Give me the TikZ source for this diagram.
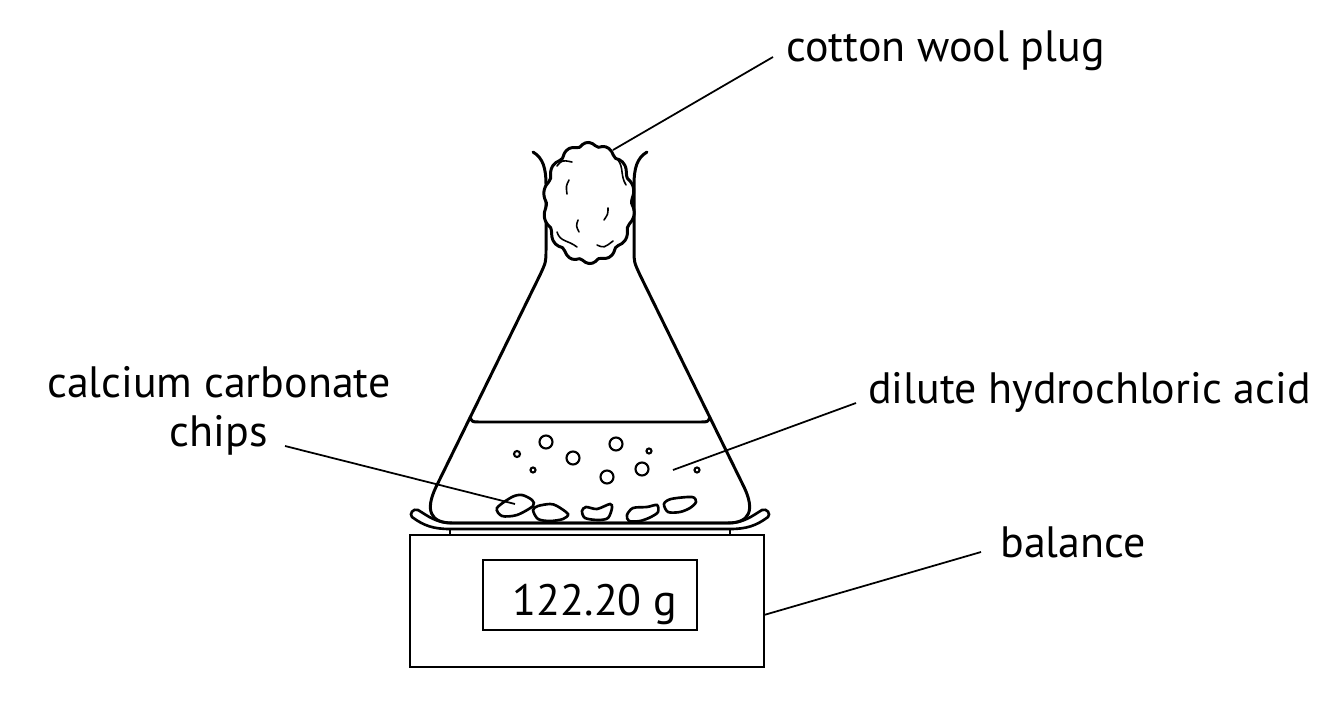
\documentclass[tikz,border=0pt]{standalone}
\usepackage{fontspec}
\setmainfont{PT Sans}
\usepackage{tikz}

\tikzset{
  glass/.style={line width=1.7pt, line join=round, line cap=round},
  leader/.style={line width=1pt},
  lbl/.style={inner sep=0pt, font=\fontsize{25}{30}\selectfont},
  bubble/.style={line width=1.2pt},
  chip/.style={line width=1.5pt, fill=white},
  fluff/.style={line width=0.9pt, line cap=round},
}

\begin{document}
\begin{tikzpicture}[x=0.02cm, y=-0.02cm]
      \useasboundingbox (0,0) rectangle (1328,705);
      % balance and display
      \draw[line width=1.5pt] (410,535) rectangle (764,667);
      \draw[line width=1.5pt] (483,560) rectangle (697,630);
      \node[lbl, anchor=base] (reading) at (595,615) {122.20 g};
      % pan
      \draw[line width=1.2pt] (450,529) -- (450,535) (730,529) -- (730,535);
      \draw[line width=1.5pt, fill=white] (418,510) .. controls (428,516) and (436,523) .. (452,523) -- (728,523) .. controls (744,523) and (752,516) .. (762,510) .. controls (767,508) and (771,514) .. (768,517) .. controls (756,526) and (746,529) .. (730,529) -- (450,529) .. controls (434,529) and (424,526) .. (412,517) .. controls (409,514) and (413,508) .. cycle;
      % flask
      \draw[glass] (533,152) .. controls (543,158) and (546,168) .. (546,185) -- (546,250) .. controls (546,262) .. (540,275) -- (436,487) .. controls (425,510) and (430,523) .. (452,523) -- (728,523) .. controls (750,523) and (755,510) .. (744,487) -- (640,275) .. controls (634,262) .. (634,250) -- (634,185) .. controls (634,168) and (637,158) .. (647,152);
      \draw[glass] (470,417) .. controls (472,422) .. (480,422) -- (700,422) .. controls (708,422) .. (710,417);
      % bubbles
      \foreach \bx/\by/\br in {546/442/6.5, 616/444/6.5, 573/458/6.5, 607/477/6.5, 642/469/6.5, 517/454/3, 533/470/2.5, 649/451/2.5, 697/470/2.5}
        \draw[bubble] (\bx,\by) circle[radius=\br];
      % chips
      \draw[chip] plot[smooth cycle, tension=0.5] coordinates {(497,508) (512,497) (522,495) (532,500) (533,506) (517,515) (502,516)};
      \draw[chip] plot[smooth cycle, tension=0.5] coordinates {(533,510) (538,506) (550,504) (557,506) (568,514) (563,519) (550,521) (538,519)};
      \draw[chip] plot[smooth cycle, tension=0.5] coordinates {(582,511) (586,507) (597,509) (610,504) (612,508) (608,518) (598,520) (585,518)};
      \draw[chip] plot[smooth cycle, tension=0.5] coordinates {(627,515) (633,508) (647,507) (657,505) (658,512) (651,517) (640,521) (629,521)};
      \draw[chip] plot[smooth cycle, tension=0.5] coordinates {(664,504) (671,499) (692,497) (696,502) (690,508) (680,512) (668,512)};
      % cotton wool
      \draw[glass, fill=white] plot[smooth cycle, samples=84, domain=0:355.7, variable=\t] ({589+45*(0.93+0.09*abs(sin(7*\t+10)))*cos(\t)}, {203+60*(0.94+0.07*abs(sin(7*\t+10)))*sin(\t)});
      \draw[fluff] (557,166) .. controls (562,160) .. (572,162);
      \draw[fluff] (569,180) .. controls (566,186) .. (567,194);
      \draw[fluff] (618,160) .. controls (624,168) and (620,175) .. (626,185);
      \draw[fluff] (557,232) .. controls (560,242) and (568,240) .. (577,247);
      \draw[fluff] (597,245) .. controls (604,248) .. (613,241);
      \draw[fluff] (608,208) .. controls (608,214) .. (604,220);
      \draw[fluff] (578,220) .. controls (576,226) .. (579,232);
      % label ends
      \coordinate (plug) at (613,150);
      \coordinate (chip) at (515,504);
      \coordinate (acid) at (673,470);
      \coordinate (case) at (764,615);
      % labels
      \node[lbl, anchor=base west] (cotton) at (786,62) {cotton wool plug};
      \node[lbl, anchor=base] (calcium) at (219,398) {calcium carbonate};
      \node[lbl, anchor=base east] (chips) at (268,447) {chips};
      \node[lbl, anchor=base west] (dilute) at (868,404) {dilute hydrochloric acid};
      \node[lbl, anchor=base west] (balance) at (1000,557) {balance};
      \draw[leader] ([shift={(-13,-5)}]cotton.base west) -- (plug);
      \draw[leader] ([shift={(17,-1)}]chips.base east) -- (chip);
      \draw[leader] ([shift={(-12,-1)}]dilute.base west) -- (acid);
      \draw[leader] ([shift={(-19,-5)}]balance.base west) -- (case);
\end{tikzpicture}
\end{document}
